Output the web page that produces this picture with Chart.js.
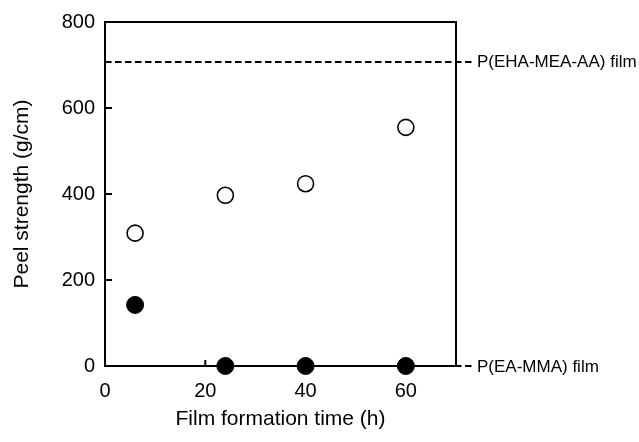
<!DOCTYPE html>
<html>
<head>
<meta charset="utf-8">
<script src="https://cdn.jsdelivr.net/npm/chart.js@4/dist/chart.umd.min.js"></script>
<style>
  html, body { margin: 0; padding: 0; background: #fff; }
</style>
</head>
<body>
<canvas id="c" width="639" height="442"></canvas>
<script>
// Film formation time (h) and measured peel strength (g/cm)
const formationTimes = [6, 24, 40, 60];
const peelOpen = [309, 397, 424, 555];
const peelFilled = [142, 0, 0, 0];

// Axis ticks
const xTicks = [0, 20, 40, 60];
const yTicks = [0, 200, 400, 600, 800];

// Reference films drawn as dashed horizontal lines
const refValues = [708, 0];
const refLabels = ['P(EHA-MEA-AA) film', 'P(EA-MMA) film'];

const FONT = "'Liberation Sans', Arial, Helvetica, sans-serif";
Chart.defaults.font.family = FONT;
Chart.defaults.color = '#000';

const toPoints = (xs, ys) => xs.map((x, i) => ({ x: x, y: ys[i] }));

// Frame, inward ticks and reference lines
const framePlugin = {
  id: 'frame',
  beforeDatasetsDraw(chart) {
    const { ctx, chartArea } = chart;
    const { left, right, top, bottom } = chartArea;
    const xs = chart.scales.x, ys = chart.scales.y;
    ctx.save();

    // dashed reference lines with labels on the right
    ctx.strokeStyle = '#000';
    ctx.lineWidth = 2;
    ctx.setLineDash([6.5, 3.5]);
    refValues.forEach(v => {
      const y = Math.round(ys.getPixelForValue(v));
      ctx.beginPath();
      ctx.moveTo(left, y);
      ctx.lineTo(right + 19, y);
      ctx.stroke();
    });
    ctx.setLineDash([]);
    ctx.fillStyle = '#000';
    ctx.font = '17px ' + FONT;
    ctx.textAlign = 'left';
    ctx.textBaseline = 'middle';
    refValues.forEach((v, i) => {
      const y = ys.getPixelForValue(v);
      ctx.fillText(refLabels[i], right + 21, y + 1);
    });

    // box around the plot area
    ctx.lineWidth = 2;
    ctx.strokeRect(left, top, right - left, bottom - top);

    // inward tick marks
    yTicks.forEach(v => {
      const y = ys.getPixelForValue(v);
      ctx.beginPath();
      ctx.moveTo(left, y);
      ctx.lineTo(left + 7, y);
      ctx.stroke();
    });
    xTicks.forEach(v => {
      const x = xs.getPixelForValue(v);
      ctx.beginPath();
      ctx.moveTo(x, bottom);
      ctx.lineTo(x, bottom - 6);
      ctx.stroke();
    });
    ctx.restore();
  }
};

new Chart(document.getElementById('c'), {
  type: 'scatter',
  data: {
    datasets: [
      {
        label: 'open',
        data: toPoints(formationTimes, peelOpen),
        pointStyle: 'circle',
        pointRadius: 8,
        pointBorderWidth: 1.6,
        pointBackgroundColor: '#fff',
        pointBorderColor: '#000',
        clip: false
      },
      {
        label: 'filled',
        data: toPoints(formationTimes, peelFilled),
        pointStyle: 'circle',
        pointRadius: 8.5,
        pointBorderWidth: 1,
        pointBackgroundColor: '#000',
        pointBorderColor: '#000',
        clip: false
      }
    ]
  },
  options: {
    responsive: false,
    animation: false,
    events: [],
    layout: { padding: { left: 0, right: 183, top: 16, bottom: 0 } },
    plugins: {
      legend: { display: false },
      tooltip: { enabled: false }
    },
    scales: {
      x: {
        type: 'linear',
        min: 0,
        max: 70,
        afterBuildTicks: s => { s.ticks = xTicks.map(v => ({ value: v })); },
        afterFit: s => { s.height = 76; },
        grid: { display: false, drawTicks: false },
        border: { display: false },
        ticks: { padding: 13, font: { size: 20 }, color: '#000' },
        title: {
          display: true,
          text: 'Film formation time (h)',
          font: { size: 21 },
          color: '#000',
          padding: { top: 0, bottom: 10 }
        }
      },
      y: {
        type: 'linear',
        min: 0,
        max: 800,
        afterBuildTicks: s => { s.ticks = yTicks.map(v => ({ value: v })); },
        afterFit: s => { s.width = 105; },
        grid: { display: false, drawTicks: false },
        border: { display: false },
        ticks: { padding: 10, font: { size: 20 }, color: '#000' },
        title: {
          display: true,
          text: 'Peel strength (g/cm)',
          font: { size: 21 },
          color: '#000',
          padding: { top: 10, bottom: 0 }
        }
      }
    }
  },
  plugins: [framePlugin]
});
</script>
</body>
</html>
